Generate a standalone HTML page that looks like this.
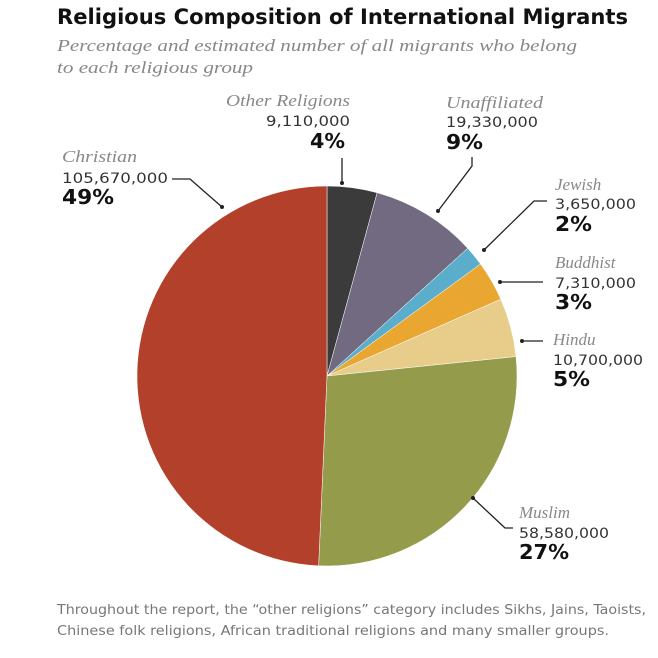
<!DOCTYPE html>
<html><head><meta charset="utf-8"><style>
body{margin:0;background:#fff;width:658px;height:658px;overflow:hidden}
svg{display:block}
.n{font-family:"Liberation Serif",serif;font-style:italic;fill:#888;font-size:17px}
.v{font-family:"DejaVu Sans",sans-serif;fill:#333;font-size:14px}
.p{font-family:"DejaVu Sans",sans-serif;font-weight:bold;fill:#111;font-size:20px}
</style></head><body>
<svg id="s" width="658" height="658" xmlns="http://www.w3.org/2000/svg">
<text x="57" y="24" font-family="DejaVu Sans,sans-serif" font-weight="bold" font-size="21" fill="#111" textLength="571" lengthAdjust="spacingAndGlyphs">Religious Composition of International Migrants</text>
<text x="57" y="51" class="n" font-size="18" fill="#777" textLength="520" lengthAdjust="spacingAndGlyphs">Percentage and estimated number of all migrants who belong</text>
<text x="57" y="73" class="n" font-size="18" fill="#777" textLength="196" lengthAdjust="spacingAndGlyphs">to each religious group</text>
<g id="pie"></g>
<g stroke="#222" stroke-width="1.3" fill="none">
<polyline points="172,179 190,179 222,207"/>
<polyline points="342,158 342,183"/>
<polyline points="472,157 472,166 438,211"/>
<polyline points="547,201 534,201 484,250"/>
<polyline points="543,282 500,282"/>
<polyline points="543,341 522,341"/>
<polyline points="513,528 505,528 473,498"/>
</g>
<g fill="#222"><circle cx="222" cy="207" r="2"/><circle cx="342" cy="183" r="2"/><circle cx="438" cy="211" r="2"/><circle cx="484" cy="250" r="2"/><circle cx="500" cy="282" r="2"/><circle cx="522" cy="341" r="2"/><circle cx="473" cy="498" r="2"/></g>
<text x="62" y="162" class="n" textLength="75" lengthAdjust="spacingAndGlyphs">Christian</text><text x="62" y="183" class="v" textLength="106" lengthAdjust="spacingAndGlyphs">105,670,000</text><text x="62" y="204" class="p" textLength="52" lengthAdjust="spacingAndGlyphs">49%</text>
<text x="226" y="106" class="n" textLength="124" lengthAdjust="spacingAndGlyphs">Other Religions</text><text x="266" y="126" class="v" textLength="84" lengthAdjust="spacingAndGlyphs">9,110,000</text><text x="310" y="148" class="p" textLength="35" lengthAdjust="spacingAndGlyphs">4%</text>
<text x="446" y="108" class="n" textLength="97" lengthAdjust="spacingAndGlyphs">Unaffiliated</text><text x="446" y="127" class="v" textLength="92" lengthAdjust="spacingAndGlyphs">19,330,000</text><text x="446" y="149" class="p" textLength="37" lengthAdjust="spacingAndGlyphs">9%</text>
<text x="555" y="190" class="n">Jewish</text><text x="555" y="209" class="v" textLength="81" lengthAdjust="spacingAndGlyphs">3,650,000</text><text x="555" y="231" class="p" textLength="37" lengthAdjust="spacingAndGlyphs">2%</text>
<text x="555" y="268" class="n">Buddhist</text><text x="555" y="288" class="v" textLength="81" lengthAdjust="spacingAndGlyphs">7,310,000</text><text x="555" y="309" class="p" textLength="37" lengthAdjust="spacingAndGlyphs">3%</text>
<text x="553" y="345" class="n">Hindu</text><text x="553" y="365" class="v" textLength="90" lengthAdjust="spacingAndGlyphs">10,700,000</text><text x="553" y="386" class="p" textLength="37" lengthAdjust="spacingAndGlyphs">5%</text>
<text x="519" y="518" class="n">Muslim</text><text x="519" y="538" class="v" textLength="90" lengthAdjust="spacingAndGlyphs">58,580,000</text><text x="519" y="559" class="p" textLength="50" lengthAdjust="spacingAndGlyphs">27%</text>
<text x="57" y="614" font-family="DejaVu Sans,sans-serif" font-size="13" fill="#777" textLength="589" lengthAdjust="spacingAndGlyphs">Throughout the report, the “other religions” category includes Sikhs, Jains, Taoists,</text>
<text x="57" y="635" font-family="DejaVu Sans,sans-serif" font-size="13" fill="#777" textLength="552" lengthAdjust="spacingAndGlyphs">Chinese folk religions, African traditional religions and many smaller groups.</text>
</svg>
<script>
var d=[[9.11,"#3b3b3b"],[19.33,"#726a80"],[3.65,"#5aaecb"],[7.31,"#e9a731"],[10.7,"#e8cd8a"],[58.58,"#949c4b"],[105.67,"#b3402a"]];
var t=0;d.forEach(function(x){t+=x[0]});
var cx=327,cy=376,r=190,a=0,h="";
d.forEach(function(x){var b=a+x[0]/t*2*Math.PI;
var x1=cx+r*Math.sin(a),y1=cy-r*Math.cos(a),x2=cx+r*Math.sin(b),y2=cy-r*Math.cos(b);
h+='<path d="M'+cx+','+cy+'L'+x1+','+y1+'A'+r+','+r+' 0 '+((b-a)>Math.PI?1:0)+' 1 '+x2+','+y2+'Z" fill="'+x[1]+'" stroke="#fff" stroke-width="0.5"/>';a=b;});
document.getElementById("pie").innerHTML=h;
</script>
</body></html>
